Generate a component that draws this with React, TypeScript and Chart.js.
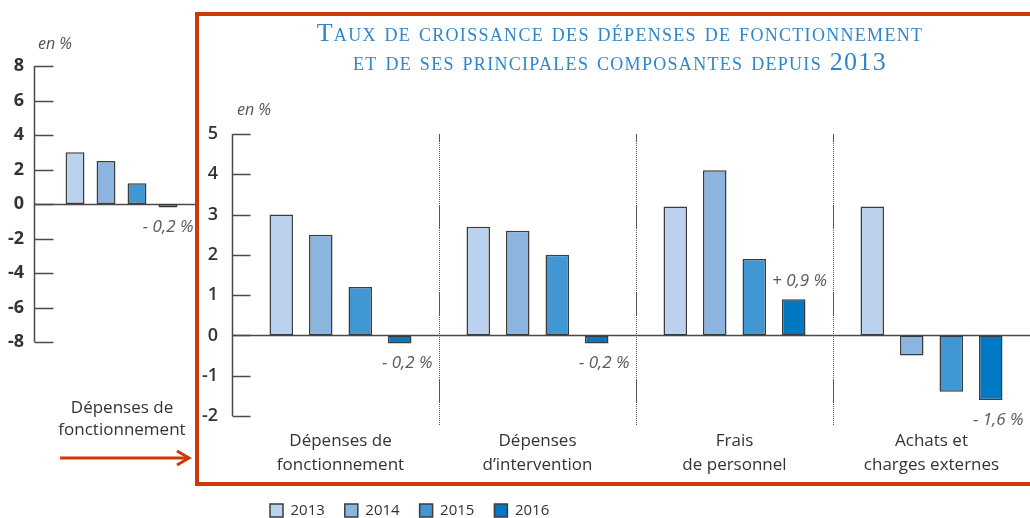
import React, { useEffect, useRef } from "react";
import { Chart, registerables } from "chart.js";

Chart.register(...registerables);

// ---------- Data ----------
const years = ["2013", "2014", "2015", "2016"];
const yearColors = ["#bcd1ed", "#8bb5df", "#4196d4", "#0078c2"];

const categories = [
  ["Dépenses de", "fonctionnement"],
  ["Dépenses", "d’intervention"],
  ["Frais", "de personnel"],
  ["Achats et", "charges externes"],
];
const values2013 = [3.0, 2.7, 3.2, 3.2];
const values2014 = [2.5, 2.6, 4.1, -0.5];
const values2015 = [1.2, 2.0, 1.9, -1.4];
const values2016 = [-0.2, -0.2, 0.9, -1.6];
const notes2016 = ["- 0,2 %", "- 0,2 %", "+ 0,9 %", "- 1,6 %"];

const leftCategories = ["Dépenses de fonctionnement"];
const leftValues = [3.0, 2.5, 1.2, -0.2];
const leftNotes = ["- 0,2 %"];

const mainTickMin = -2;
const mainTickMax = 5;
const mainTickStep = 1;
const leftTickMin = -8;
const leftTickMax = 8;
const leftTickStep = 2;

const titleLines = [
  "Taux de croissance des dépenses de fonctionnement",
  "et de ses principales composantes depuis 2013",
];
const unitLabel = "en %";
const leftLabelLines = ["Dépenses de", "fonctionnement"];

// ---------- Styles ----------
const AXIS_COLOR = "#4a4a4a";
const TEXT_COLOR = "#333333";
const NOTE_COLOR = "#5a5a5a";
const RED = "#cc3a0c";
const FONT = "'Open Sans', 'Noto Sans', sans-serif";

type DecorCfg = {
  axisOffset: number;
  tickLength: number;
  dividers: boolean;
  dividerExtra: number;
  notes: string[];
  noteDataset: number;
  noteDx: number;
  noteDy: number;
  legendShift: number;
};

function dividerDash(): number[] {
  const arr: number[] = [24, 1];
  for (let i = 0; i < 31; i++) arr.push(1, 1);
  return arr;
}

function makeDecor(cfg: DecorCfg) {
  return {
    id: "decor",
    afterLayout(chart: any) {
      if (cfg.legendShift && chart.legend) {
        chart.legend.left += cfg.legendShift;
        chart.legend.right += cfg.legendShift;
      }
    },
    beforeDatasetsDraw(chart: any) {
      const { ctx, chartArea } = chart;
      const ys = chart.scales.y;
      const xs = chart.scales.x;
      const axisX = Math.round(chartArea.left - cfg.axisOffset) + 0.5;
      const top = ys.getPixelForValue(ys.max);
      const bottom = ys.getPixelForValue(ys.min);
      ctx.save();
      ctx.strokeStyle = AXIS_COLOR;
      ctx.lineWidth = 1.5;
      ctx.beginPath();
      ctx.moveTo(axisX, top);
      ctx.lineTo(axisX, bottom);
      ctx.stroke();
      ys.ticks.forEach((t: any) => {
        const py = Math.round(ys.getPixelForValue(t.value)) + 0.5;
        ctx.beginPath();
        ctx.moveTo(axisX, py);
        ctx.lineTo(axisX + cfg.tickLength, py);
        ctx.stroke();
      });
      const zy = Math.round(ys.getPixelForValue(0)) + 0.5;
      ctx.beginPath();
      ctx.moveTo(axisX, zy);
      ctx.lineTo(chart.width, zy);
      ctx.stroke();
      if (cfg.dividers) {
        ctx.lineWidth = 1;
        ctx.strokeStyle = "#555";
        ctx.setLineDash(dividerDash());
        ctx.lineDashOffset = 16;
        for (let i = 0; i < xs.ticks.length - 1; i++) {
          const px =
            Math.round((xs.getPixelForTick(i) + xs.getPixelForTick(i + 1)) / 2) + 0.5;
          ctx.beginPath();
          ctx.moveTo(px, top);
          ctx.lineTo(px, bottom + cfg.dividerExtra);
          ctx.stroke();
        }
      }
      ctx.restore();
    },
    afterDatasetsDraw(chart: any) {
      const { ctx } = chart;
      const meta = chart.getDatasetMeta(cfg.noteDataset);
      const data = chart.data.datasets[cfg.noteDataset].data;
      ctx.save();
      ctx.font = `italic 17px ${FONT}`;
      ctx.fillStyle = NOTE_COLOR;
      ctx.textBaseline = "middle";
      cfg.notes.forEach((txt, i) => {
        const el = meta.data[i];
        if (!el || !txt) return;
        const { x, y, width } = el.getProps(["x", "y", "width"], true);
        const v = data[i] as number;
        if (v < 0) {
          ctx.textAlign = "right";
          ctx.fillText(txt, x + width / 2 + cfg.noteDx, y + cfg.noteDy);
        } else {
          ctx.textAlign = "left";
          ctx.fillText(txt, x - width / 2 - 10, y - 18);
        }
      });
      ctx.restore();
    },
  };
}

function barDataset(label: string, data: number[], color: string) {
  return {
    label,
    data,
    backgroundColor: color,
    borderColor: "#3c3c3c",
    borderWidth: 1.5,
    borderSkipped: false as const,
  };
}

export default function App() {
  const mainRef = useRef<HTMLCanvasElement>(null);
  const leftRef = useRef<HTMLCanvasElement>(null);

  useEffect(() => {
    Chart.defaults.font.family = FONT;
    Chart.defaults.color = TEXT_COLOR;

    const mainChart = new Chart(mainRef.current!, {
      type: "bar",
      data: {
        labels: categories,
        datasets: [
          barDataset(years[0], values2013, yearColors[0]),
          barDataset(years[1], values2014, yearColors[1]),
          barDataset(years[2], values2015, yearColors[2]),
          barDataset(years[3], values2016, yearColors[3]),
        ],
      },
      options: {
        responsive: false,
        animation: false,
        events: [],
        layout: { padding: { top: 44, left: 0, right: 0, bottom: 0 } },
        datasets: {
          bar: { categoryPercentage: 0.802, barPercentage: 0.595 },
        },
        plugins: {
          title: { display: false },
          tooltip: { enabled: false },
          legend: {
            display: true,
            position: "bottom",
            align: "start",
            fullSize: false,
            labels: {
              boxWidth: 13,
              boxHeight: 13,
              padding: 20,
              color: TEXT_COLOR,
              font: { size: 15, family: FONT },
            },
          },
        },
        scales: {
          x: {
            grid: { display: false, drawTicks: false },
            border: { display: false },
            ticks: {
              padding: 14,
              color: TEXT_COLOR,
              maxRotation: 0,
              autoSkip: false,
              font: { size: 17, family: FONT, lineHeight: 1.36 },
            },
            afterFit: (s: any) => {
              s.height = 67;
            },
          },
          y: {
            min: mainTickMin,
            max: mainTickMax,
            grid: { display: false, drawTicks: false },
            border: { display: false },
            ticks: {
              stepSize: mainTickStep,
              padding: 24,
              color: TEXT_COLOR,
              font: { size: 18, weight: 600 as any, family: FONT },
            },
            afterFit: (s: any) => {
              s.width = 43;
            },
          },
        },
      },
      plugins: [
        makeDecor({
          axisOffset: 10,
          tickLength: 18,
          dividers: true,
          dividerExtra: 10,
          notes: notes2016,
          noteDataset: 3,
          noteDx: 21,
          noteDy: 20,
          legendShift: 8,
        }),
      ],
    });

    const leftChart = new Chart(leftRef.current!, {
      type: "bar",
      data: {
        labels: leftCategories,
        datasets: years.map((y, i) =>
          barDataset(y, [leftValues[i]], yearColors[i])
        ),
      },
      options: {
        responsive: false,
        animation: false,
        events: [],
        layout: {
          padding: { top: 66, left: 0, right: 0, bottom: 18 },
        },
        datasets: {
          bar: { categoryPercentage: 0.843, barPercentage: 0.61 },
        },
        plugins: {
          legend: { display: false },
          tooltip: { enabled: false },
        },
        scales: {
          x: { display: false },
          y: {
            min: leftTickMin,
            max: leftTickMax,
            grid: { display: false, drawTicks: false },
            border: { display: false },
            ticks: {
              stepSize: leftTickStep,
              padding: 24,
              color: TEXT_COLOR,
              font: { size: 18, weight: 700 as any, family: FONT },
            },
            afterFit: (s: any) => {
              s.width = 48;
              s.paddingTop = 0;
              s.paddingBottom = 0;
            },
          },
        },
      },
      plugins: [
        makeDecor({
          axisOffset: 14,
          tickLength: 19,
          dividers: false,
          dividerExtra: 0,
          notes: leftNotes,
          noteDataset: 3,
          noteDx: 16,
          noteDy: 20,
          legendShift: 0,
        }),
      ],
    });

    return () => {
      mainChart.destroy();
      leftChart.destroy();
    };
  }, []);

  return (
    <div
      style={{
        position: "absolute",
        left: 0,
        top: 0,
        width: 1030,
        height: 518,
        overflow: "hidden",
        background: "#fff",
        fontFamily: FONT,
        color: TEXT_COLOR,
      }}
    >
      <canvas
        ref={leftRef}
        width={195}
        height={360}
        style={{ position: "absolute", left: 0, top: 0, width: 195, height: 360 }}
      />
      <canvas
        ref={mainRef}
        width={831}
        height={438}
        style={{ position: "absolute", left: 199, top: 90, width: 831, height: 438 }}
      />
      <div
        style={{
          position: "absolute",
          left: 38,
          top: 33,
          fontSize: 16,
          lineHeight: "20px",
          fontStyle: "italic",
          color: "#555",
        }}
      >
        {unitLabel}
      </div>
      <div
        style={{
          position: "absolute",
          left: 237,
          top: 99,
          fontSize: 16,
          lineHeight: "20px",
          fontStyle: "italic",
          color: "#555",
        }}
      >
        {unitLabel}
      </div>
      <div
        style={{
          position: "absolute",
          left: 210,
          width: 820,
          top: 18,
          textAlign: "center",
          color: "#2f86c9",
          fontFamily: "'Liberation Serif', serif",
          fontVariant: "small-caps",
          fontSize: 26,
          lineHeight: "29px",
          letterSpacing: 1.3,
          whiteSpace: "nowrap",
        }}
      >
        {titleLines[0]}
        <br />
        {titleLines[1]}
      </div>
      <div
        style={{
          position: "absolute",
          left: 40,
          width: 164,
          top: 396,
          textAlign: "center",
          fontSize: 17,
          lineHeight: "22px",
        }}
      >
        {leftLabelLines[0]}
        <br />
        {leftLabelLines[1]}
      </div>
      <svg
        width={200}
        height={40}
        style={{ position: "absolute", left: 0, top: 440 }}
      >
        <line x1={60} y1={18} x2={187} y2={18} stroke={RED} strokeWidth={3} />
        <polyline
          points="177,11 189,18 177,25"
          fill="none"
          stroke={RED}
          strokeWidth={3}
        />
      </svg>
      <div
        style={{
          position: "absolute",
          left: 195,
          top: 12,
          width: 1000,
          height: 474,
          boxSizing: "border-box",
          border: `4px solid ${RED}`,
          pointerEvents: "none",
        }}
      />
    </div>
  );
}
